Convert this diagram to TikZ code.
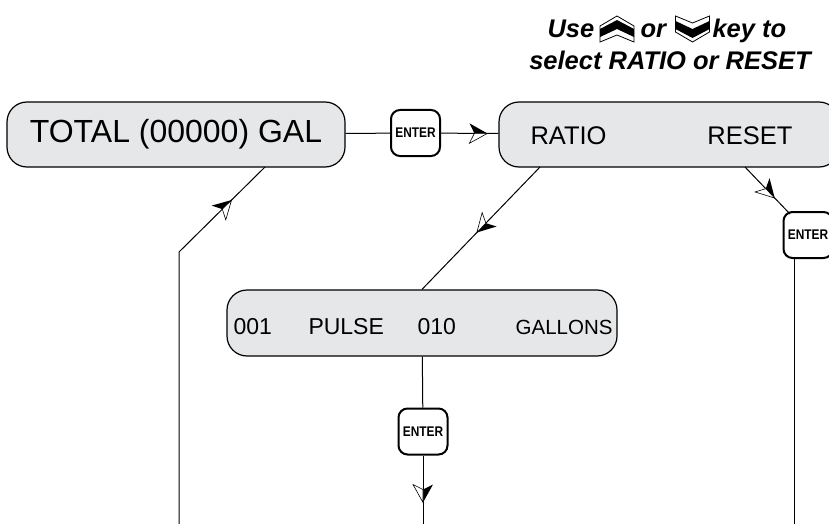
\documentclass[tikz,border=0pt]{standalone}
\usepackage{fontspec}
\setmainfont{Liberation Sans}
\newfontfamily\keyfont[FakeStretch=0.85]{Liberation Sans}
\usetikzlibrary{decorations.markings}

\definecolor{lcdgray}{RGB}{230,231,232}
\newcommand{\kitehead}{%
	\fill (0pt,0pt) -- (-18pt,10pt) -- (-13pt,0pt) -- cycle;
	\filldraw[fill=white,line width=0.6pt] (0pt,0pt) -- (-18pt,-10pt) -- (-13pt,0pt) -- cycle;}

\begin{document}
\begin{tikzpicture}[x=1pt,y=-1pt,line width=1pt,
	lcd/.style={draw,line width=1.2pt,fill=lcdgray,rounded corners=20pt,minimum width=#1,minimum height=65pt,inner sep=0pt},
	enterkey/.style={draw,line width=2pt,rounded corners=9pt,minimum width=49pt,minimum height=46pt,inner sep=0pt,font=\keyfont\bfseries\fontsize{14}{14}\selectfont},
	kite/.style={postaction={decorate,decoration={markings,mark=at position #1 with {\kitehead}}}},
	txtbig/.style={inner sep=0pt,font=\fontsize{32}{32}\selectfont},
	txtmid/.style={inner sep=0pt,font=\fontsize{25.5}{25.5}\selectfont},
	txtsmall/.style={inner sep=0pt,font=\fontsize{23}{23}\selectfont},
	hint/.style={inner sep=0pt,font=\bfseries\itshape\fontsize{25.5}{30}\selectfont},
	chev/.pic={
		\filldraw[fill=white,line width=0.8pt] (0,0) -- (17,10) -- (17,26) -- (0,19) -- (-17,26) -- (-17,10) -- cycle;
		\fill (0,4) -- (17,13) -- (17,21) -- (0,13) -- (-17,21) -- (-17,13) -- cycle;}]
	\useasboundingbox (0,0) rectangle (829,524);

	%% hint on top
	\node[hint,anchor=base west] (use) at (547,38) {Use};
	\node[hint,anchor=base west] (or) at (640,38) {or};
	\node[hint,anchor=base west] (keyto) at (712,38) {key to};
	\node[hint,anchor=base] (select) at (670,70) {select RATIO or RESET};
	\pic at (617,16) {chev};
	\pic[yscale=-1] at (692.5,42) {chev};

	%% displays
	\node[lcd=338pt,txtbig] (total) at (176,134.5) {TOTAL (00000) GAL};
	\node[lcd=340pt] (ratio) at (669,134.5) {};
	\node[txtmid,anchor=base west] (ratiotxt) at (530,144) {RATIO};
	\node[txtmid,anchor=base east] (resettxt) at (793,144) {RESET};
	\node[lcd=390pt,minimum height=66pt] (pulse) at (422,323) {};
	\node[txtsmall,anchor=base west] (pone) at (233,334) {001};
	\node[txtsmall,anchor=base west] (ptxt) at (308,334) {PULSE};
	\node[txtsmall,anchor=base west] (pten) at (417,334) {010};
	\node[inner sep=0pt,font=\fontsize{20.5}{20.5}\selectfont,anchor=base east] (pgal) at (613,334) {GALLONS};

	%% keys
	\node[enterkey] (k1) at (415.5,133) {ENTER};
	\node[enterkey] (k2) at (808,235) {ENTER};
	\node[enterkey] (k3) at (423,431.5) {ENTER};

	\coordinate (ra) at (540,167);
	\coordinate (rs) at (745,167);
	\coordinate (k2in) at (790,214);
	\coordinate (k2out) at (794,524);
	\coordinate (tin) at (265,167);
	\coordinate (bend) at (179,252);
	\coordinate (lout) at (179,524);
	\coordinate (k3out) at (423,524);

	\draw (total) -- (k1);
	\draw[kite=-11pt] (k1) -- (ratio);
	\draw[kite=91pt] (ra) -- (pulse.north);
	\draw[kite=43pt] (rs) -- (k2in);
	\draw (k2.south -| k2out) -- (k2out);
	\draw (pulse) -- (k3);
	\draw[kite=47pt] (k3) -- (k3out);
	% back to total
	\draw[kite=-47pt] (lout) -- (bend) -- (tin);
\end{tikzpicture}
\end{document}
